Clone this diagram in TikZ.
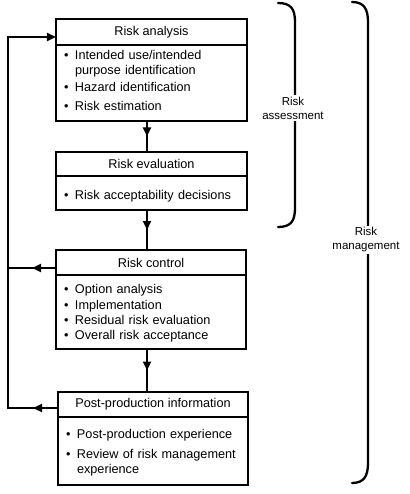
\documentclass[tikz,border=0pt]{standalone}
\usepackage{fontspec}
\setmainfont{Liberation Sans}
\usetikzlibrary{positioning, arrows.meta, decorations.markings}
\tikzset{>={Triangle[width=8bp,length=9bp]}}
\tikzset{
  boxhead/.style={draw, line width=2.6bp, minimum width=191bp, inner sep=0pt,
    outer sep=0pt, font=\fontsize{12.7bp}{15bp}\selectfont},
  boxbody/.style={draw, line width=2.6bp, text width=175bp, inner xsep=8bp,
    inner ysep=0pt, outer sep=0pt, align=left,
    font=\fontsize{12.7bp}{15bp}\selectfont},
  conn/.style={line width=2.6bp, line cap=rect},
  midarrow/.style={postaction={decorate}, decoration={markings,
    mark=at position 0.5 with {\arrow{>}}}},
  bracket/.style={line width=2.3bp, line cap=round},
  bracelabel/.style={fill=white, align=center, inner sep=2bp,
    font=\fontsize{11.5bp}{14bp}\selectfont}
}
\newcommand{\itm}[2][0bp]{\par\vspace{#1}\noindent\makebox[11bp][l]{\textbullet}%
  \parbox[t]{\dimexpr\hsize-11bp}{\raggedright\hyphenpenalty=10000 #2}}
\newcommand{\botpad}[1]{\rule[-#1]{0pt}{#1}}

\begin{document}
\begin{tikzpicture}[x=1bp, y=-1bp]
  \useasboundingbox (0,0) rectangle (409,494);

  % boxes
  \node[boxhead, minimum height=26bp] (anaHead) at (151.5,32) {Risk analysis};
  \node[boxbody, minimum height=73bp, below=0pt of anaHead] (anaBody)
    {\itm{Intended use/intended purpose identification}
     \itm[4bp]{Hazard identification} \itm[4bp]{Risk estimation\botpad{10bp}}};

  \node[boxhead, minimum height=24bp] (evaHead) at (151.5,164) {Risk evaluation};
  \node[boxbody, minimum height=34bp, below=0pt of evaHead] (evaBody)
    {\itm{Risk acceptability decisions}};

  \node[boxhead, minimum height=25bp, minimum width=190bp] (ctlHead) at (151,262.5) {Risk control};
  \node[boxbody, minimum height=74bp, text width=174bp, below=0pt of ctlHead] (ctlBody)
    {\baselineskip=15.5bp \itm{Option analysis} \itm{Implementation}
     \itm{Residual risk evaluation} \itm{Overall risk acceptance\botpad{6bp}}};

  \node[boxhead, minimum height=25bp, minimum width=190bp] (postHead) at (153,404.5) {Post-production information};
  \node[boxbody, minimum height=68bp, text width=174bp, below=0pt of postHead] (postBody)
    {\itm{Post-production experience}
     \itm[5bp]{Review of risk management experience\botpad{5bp}}};

  % main flow
  \coordinate (spine) at (147,0);
  \draw[conn, midarrow] (anaBody.south -| spine) -- (evaHead.north -| spine);
  \draw[conn, midarrow] (evaBody.south -| spine) -- (ctlHead.north -| spine);
  \draw[conn, midarrow] (ctlBody.south -| spine) -- (postHead.north -| spine);

  % feedback loop
  \coordinate (fbTop) at (8,37);
  \coordinate (fbMid) at (8,268);
  \coordinate (fbBot) at (8,408);
  \draw[conn, midarrow] (fbMid -| ctlHead.west) -- (fbMid);
  \draw[conn, midarrow] (fbBot -| postHead.west) -- (fbBot);
  \draw[conn, ->] (fbBot) -- (fbTop) -- (fbTop -| anaHead.west);

  % brackets
  \draw[bracket] (278,3) .. controls (291,3) and (295,9) .. (295,22) -- (295,208)
    .. controls (295,221) and (291,227) .. (278,227);
  \node[bracelabel] (asmLabel) at (293,108) {Risk\\assessment};
  \draw[bracket] (352,2) .. controls (364,2) and (368,9) .. (368,22) -- (368,463)
    .. controls (368,476) and (364,483) .. (352,483);
  \node[bracelabel] (mgmtLabel) at (366,240) {Risk\\management};
\end{tikzpicture}
\end{document}
